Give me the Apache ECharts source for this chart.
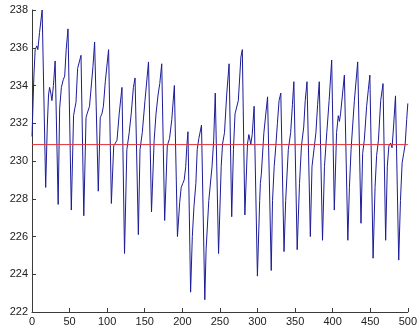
<!DOCTYPE html>
<html>
<head>
<meta charset="utf-8">
<script src="https://cdn.jsdelivr.net/npm/echarts@6/dist/echarts.min.js"></script>
<style>html,body{margin:0;padding:0;background:#fff;}#c{width:420px;height:327px;}</style>
</head>
<body>
<div id="c"></div>
<script>
// Sample positions (x) and readings (y) (vertices of the trace)
const sampleX = [
  0, 2.5, 4.2, 6.5, 7.8, 10, 13.5, 18.2,
  20.3, 22, 23.4, 25, 26.5, 28.5, 30.8, 34.8,
  36.8, 39.1, 41.5, 43.5, 45.5, 47.9, 52.3,
  55.3, 57, 58.5, 60.7, 65.2, 68.9,
  71.9, 73.3, 76.5, 81.1, 83.3, 88.2,
  90.8, 93, 95, 97.5, 101.9, 105.6,
  108.7, 113.1, 116, 119.7, 123.1,
  126.2, 129.3, 132, 134.9, 137.1, 141.5,
  143.7, 146.7, 150.3, 155, 159,
  162.5, 165, 167.7, 170, 172.6, 176.5,
  180, 183, 186, 189.4, 193.5,
  196.5, 198.5, 200.5, 202.5, 204.5, 206, 207.5, 211,
  213.3, 215.5, 218, 219.8, 222, 225.5, 229.9,
  231.6, 235.2, 239.5, 241.7, 243.8, 248.2,
  251.7, 253.5, 256.1, 259, 262.2, 265.7,
  268, 270.1, 274.5, 277.9, 279.8, 283.2,
  286.7, 288.5, 291.1, 293, 295.5, 296.4, 299.9,
  302.9, 303.8, 305.1, 308.5, 313.4, 318.3,
  320, 322.2, 324.4, 326.5, 328.7, 331, 335.3,
  337.5, 341, 344.1, 346.5, 348.4, 352.8,
  355.9, 358.5, 361.5, 363.5, 365.9, 370.3,
  372.5, 376, 377.7, 380, 382.2, 386.5,
  389.1, 392.2, 395.3, 398.7, 402.2,
  405.2, 407.5, 409, 410.5, 413, 415.6, 420.2,
  422.3, 424.5, 426.5, 428.9, 433.3, 437.7,
  439.9, 442.1, 445.2, 447.5, 449.5, 453.8,
  456.4, 458.5, 460.9, 463.9, 467, 470.5,
  472.7, 474.8, 477, 479, 481, 483.6, 487.9,
  490.2, 492.4, 494.5, 496.5, 498.5, 500
];
const sampleY = [
  231.3, 234.5, 235.9, 236.1, 235.9, 236.8, 238.0, 228.6,
  231.8, 233.5, 233.9, 233.6, 233.2, 234.0, 235.3, 227.7,
  232.8, 233.9, 234.3, 234.5, 235.9, 237.0, 227.4,
  232.4, 232.8, 233.1, 234.9, 235.6, 227.1,
  232.3, 232.5, 232.9, 235.0, 236.3, 228.4,
  232.3, 232.5, 232.9, 234.2, 235.9, 227.75,
  230.8, 231.1, 232.5, 233.9, 225.1,
  230.6, 231.5, 232.5, 233.9, 234.4, 226.1,
  230.6, 231.5, 233.2, 235.25, 227.3,
  231.1, 232.5, 233.5, 234.1, 235.15, 226.85,
  230.8, 231.2, 232.2, 234.0, 226.0,
  227.8, 228.6, 228.8, 229.0, 229.7, 230.8, 231.55, 223.05,
  226.0, 227.6, 228.8, 230.6, 231.2, 231.9, 222.65,
  225.3, 227.9, 229.7, 231.1, 233.6, 225.1,
  229.7, 230.9, 231.5, 233.5, 235.15, 227.05,
  230.6, 232.5, 233.2, 235.5, 235.9, 227.14,
  230.9, 231.4, 230.9, 231.4, 232.9, 233.0, 223.9,
  227.9, 228.8, 229.3, 231.5, 233.4, 224.2,
  227.9, 229.7, 230.8, 232.0, 233.2, 233.6, 225.2,
  227.9, 230.6, 231.5, 233.0, 234.2, 225.3,
  228.8, 230.8, 231.8, 233.2, 234.2, 226.0,
  229.7, 230.9, 231.5, 233.0, 234.2, 225.8,
  229.7, 231.5, 233.2, 235.35, 227.4,
  231.5, 232.4, 232.1, 232.5, 233.5, 234.55, 225.8,
  228.6, 230.6, 231.8, 233.2, 235.25, 226.7,
  230.4, 231.1, 232.9, 233.8, 234.55, 224.85,
  228.6, 230.3, 231.1, 233.2, 234.1, 225.8,
  229.7, 230.8, 230.95, 230.7, 231.8, 233.45, 224.75,
  227.9, 229.9, 230.4, 230.9, 232.2, 233.05
];
const meanLevel = 230.87;
const xTicks = [0, 50, 100, 150, 200, 250, 300, 350, 400, 450, 500];
const yTicks = [222, 224, 226, 228, 230, 232, 234, 236, 238];

const traceData = sampleX.map((x, i) => [x, sampleY[i]]);
const meanData = [[xTicks[0], meanLevel], [xTicks[xTicks.length - 1], meanLevel]];

const chart = echarts.init(document.getElementById('c'), null, {renderer: 'canvas'});
const axisCommon = {
  axisLine: {show: true, lineStyle: {color: '#3a3a3a', width: 1}},
  axisTick: {show: true, inside: true, length: 4, lineStyle: {color: '#3a3a3a'}},
  splitLine: {show: false},
  axisLabel: {color: '#222', fontSize: 11, fontFamily: 'Liberation Sans, Arial, sans-serif'}
};
chart.setOption({
  animation: false,
  backgroundColor: '#ffffff',
  grid: {left: 32, right: 8, top: 10, bottom: 15, containLabel: false},
  xAxis: Object.assign({
    type: 'value', min: xTicks[0], max: xTicks[xTicks.length - 1], interval: 50
  }, axisCommon, {axisLabel: Object.assign({}, axisCommon.axisLabel, {margin: 4})}),
  yAxis: Object.assign({
    type: 'value', min: yTicks[0], max: yTicks[yTicks.length - 1], interval: 2
  }, axisCommon, {axisLabel: Object.assign({}, axisCommon.axisLabel, {margin: 4})}),
  series: [
    {type: 'line', data: traceData, showSymbol: false, symbol: 'none',
     lineStyle: {color: '#1c1c98', width: 1}, z: 2},
    {type: 'line', data: meanData, showSymbol: false, symbol: 'none',
     lineStyle: {color: '#e0353f', width: 1}, z: 3}
  ]
});
</script>
</body>
</html>
